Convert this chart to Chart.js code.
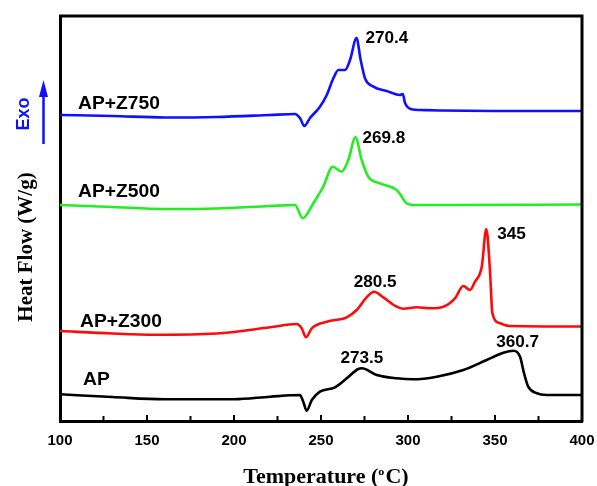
<!DOCTYPE html>
<html>
<head>
<meta charset="utf-8">
<script src="https://cdn.jsdelivr.net/npm/chart.js@4/dist/chart.umd.min.js"></script>
<style>
  html, body { margin: 0; padding: 0; background: #fff; }
  #wrap { width: 597px; height: 486px; }
</style>
</head>
<body>
<div id="wrap"><canvas id="grafica"></canvas></div>
<script>
// DSC curves, heat flow in arbitrary (stacked) units
var tempAP = [100, 130, 160, 200, 220.7, 237.9, 239.8, 241.8, 244.7, 249.4, 258, 264.8, 271.4, 273.5, 282, 293.5, 303, 316.5, 331.8, 345.2, 354.8, 360.7, 364.4, 366.7, 369.1, 374, 379.7, 400];
var flowAP = [2.67, 2.4, 2.17, 2.17, 2.43, 2.6, 1.93, 1.03, 2.1, 2.93, 3.37, 4.27, 5.2, 5.27, 4.6, 4.27, 4.17, 4.43, 5.1, 6.1, 6.83, 7.03, 6.43, 4.77, 3.43, 2.77, 2.6, 2.6];

var tempZ300 = [100, 130, 155, 190, 220.7, 236, 238.9, 241.4, 244.7, 253.3, 264.8, 270.5, 276.2, 280.5, 285.8, 293.5, 297.3, 305, 312.6, 320.3, 327, 331.8, 335.6, 338.5, 342.4, 345, 347.1, 348.5, 352.9, 358.6, 400];
var flowZ300 = [9.0, 8.75, 8.63, 8.75, 9.37, 9.7, 9.27, 8.37, 9.27, 9.93, 10.37, 11.1, 12.37, 12.93, 12.37, 11.43, 11.23, 11.37, 11.27, 11.43, 12.27, 13.5, 13.1, 13.93, 15.43, 19.2, 15.1, 10.77, 9.77, 9.5, 9.45];

var tempZ500 = [100, 130, 160, 190, 220.7, 235, 239.5, 245.6, 251.3, 256.7, 261.9, 265.7, 269.8, 273.4, 277.2, 283.9, 293.5, 295.8, 299.2, 305, 318.4, 400];
var flowZ500 = [21.6, 21.4, 21.2, 21.25, 21.5, 21.6, 20.27, 21.77, 23.43, 25.43, 24.93, 26.1, 28.37, 26.1, 24.43, 23.77, 23.1, 22.6, 21.77, 21.6, 21.6, 21.65];

var tempZ750 = [100, 130, 160, 190, 220.7, 235, 238, 240.4, 243.7, 249.4, 253.3, 257.1, 260, 263.8, 266.7, 270.4, 272.8, 275.3, 280.1, 287.7, 295.4, 297, 298.3, 302.1, 306.9, 318.4, 350, 400];
var flowZ750 = [30.6, 30.5, 30.35, 30.4, 30.6, 30.7, 30.27, 29.5, 30.3, 31.43, 32.6, 34.27, 35.1, 35.1, 36.1, 38.3, 36.1, 34.27, 33.43, 33.0, 32.6, 32.7, 31.8, 31.17, 31.1, 31.05, 31.0, 31.0];

var xTicks = [100, 150, 200, 250, 300, 350, 400];

// peak labels: text, temperature, heat flow of the peak
var peakText = ['270.4', '269.8', '345', '280.5', '273.5', '360.7'];
var peakTemp = [270.4, 269.8, 345, 280.5, 273.5, 360.7];
var peakFlow = [38.3, 28.37, 19.2, 12.93, 5.27, 7.03];

var seriesNames = ['AP+Z750', 'AP+Z500', 'AP+Z300', 'AP'];
var nameFlow = [31.7, 22.9, 9.9, 4.1];

function puntos(t, f) {
    var out = [];
    for (let i = 0; i < t.length; i++) {
        out.push({x: t[i], y: f[i]});
    }
    return out;
}

var SANS = '"Liberation Sans", Arial, sans-serif';
var SERIF = '"Liberation Serif", "Times New Roman", serif';

// offsets of peak labels relative to the peak (px)
var peakOff = [[9, 1, 'left'], [7, 1, 'left'], [11, 6, 'left'], [1, -9, 'center'], [0, -10, 'center'], [4, -8, 'center']];

// text a little wider than the font, like the original figure
function texto(c, s, x, y, align, sx) {
    c.save();
    c.translate(x, y);
    c.scale(sx, 1);
    c.textAlign = align;
    c.fillText(s, 0, 0);
    c.restore();
}

var extras = {
    id: 'extras',
    afterDraw: function(chart) {
        var c = chart.ctx, a = chart.chartArea;
        var xs = chart.scales.x, ys = chart.scales.y;
        c.save();
        // frame top and right
        c.strokeStyle = '#000';
        c.lineWidth = 3;
        c.beginPath();
        c.moveTo(a.left - 1, a.top);
        c.lineTo(a.right, a.top);
        c.lineTo(a.right, a.bottom + 1);
        c.stroke();
        // inward ticks
        c.lineWidth = 2;
        for (let t = 125; t < 400; t += 25) {
            var px = xs.getPixelForValue(t);
            var len = (t % 50 === 0) ? 6 : 5;
            c.beginPath();
            c.moveTo(px, a.bottom);
            c.lineTo(px, a.bottom - len);
            c.stroke();
        }
        // series names
        c.fillStyle = '#000';
        c.font = 'bold 18px ' + SANS;
        c.textBaseline = 'middle';
        var nameX = [78, 78, 80, 83];
        for (let i = 0; i < seriesNames.length; i++) {
            texto(c, seriesNames[i], nameX[i], ys.getPixelForValue(nameFlow[i]), 'left', 1.07);
        }
        // peak labels
        c.font = 'bold 16px ' + SANS;
        for (let i = 0; i < peakText.length; i++) {
            var o = peakOff[i];
            texto(c, peakText[i], xs.getPixelForValue(peakTemp[i]) + o[0], ys.getPixelForValue(peakFlow[i]) + o[1], o[2], 1.07);
        }
        // x title with superscript o
        c.textBaseline = 'alphabetic';
        c.save();
        c.translate(326, 483);
        c.scale(1.1, 1);
        c.font = 'bold 20px ' + SERIF;
        var p1 = 'Temperature (', p3 = 'C)';
        var w1 = c.measureText(p1).width, w3 = c.measureText(p3).width;
        c.font = 'bold 11px ' + SERIF;
        var w2 = c.measureText('o').width + 1;
        var x0 = -(w1 + w2 + w3) / 2;
        c.textAlign = 'left';
        c.font = 'bold 20px ' + SERIF;
        c.fillText(p1, x0, 0);
        c.fillText(p3, x0 + w1 + w2, 0);
        c.font = 'bold 11px ' + SERIF;
        c.fillText('o', x0 + w1, -8);
        c.restore();
        // y title
        c.textAlign = 'center';
        c.textBaseline = 'middle';
        c.font = 'bold 20px ' + SERIF;
        c.save();
        c.translate(27, 247);
        c.rotate(-Math.PI / 2);
        c.scale(1.05, 1);
        c.fillText('Heat Flow (W/g)', 0, 0);
        c.restore();
        // Exo arrow
        c.fillStyle = '#1010ff';
        c.strokeStyle = '#1010ff';
        c.save();
        c.translate(24, 114);
        c.rotate(-Math.PI / 2);
        c.font = 'bold 18px ' + SANS;
        c.fillText('Exo', 0, 0);
        c.restore();
        c.lineWidth = 2.5;
        c.beginPath();
        c.moveTo(43.5, 144);
        c.lineTo(43.5, 90);
        c.stroke();
        c.beginPath();
        c.moveTo(43.5, 80);
        c.lineTo(48, 97);
        c.lineTo(39, 97);
        c.closePath();
        c.fill();
        c.restore();
    }
};

function linea(label, t, f, color) {
    return {
        label: label,
        data: puntos(t, f),
        borderColor: color,
        borderWidth: 2.6,
        pointRadius: 0,
        fill: false,
        cubicInterpolationMode: 'monotone'
    };
}

var ctx = document.getElementById('grafica').getContext('2d');
var myChart = new Chart(ctx, {
    type: 'line',
    data: {
        datasets: [
            linea('AP', tempAP, flowAP, '#000000'),
            linea('AP+Z300', tempZ300, flowZ300, '#ff0a0a'),
            linea('AP+Z500', tempZ500, flowZ500, '#22ee22'),
            linea('AP+Z750', tempZ750, flowZ750, '#1010ff')
        ]
    },
    options: {
        responsive: true,
        maintainAspectRatio: false,
        animation: false,
        layout: { padding: { top: 16, right: 15, left: 0, bottom: 0 } },
        plugins: { legend: { display: false }, tooltip: { enabled: false } },
        scales: {
            x: {
                type: 'linear',
                min: 100,
                max: 400,
                afterBuildTicks: function(s) { s.ticks = xTicks.map(function(v) { return {value: v}; }); },
                afterFit: function(s) { s.height = 65; s.paddingLeft = 0; s.paddingRight = 0; },
                grid: { display: false, drawTicks: false },
                border: { display: true, color: '#000', width: 3 },
                ticks: {
                    padding: 11,
                    color: '#000',
                    font: { family: SANS, size: 15, weight: 'bold' },
                    maxRotation: 0
                }
            },
            y: {
                min: 0,
                max: 40.5,
                afterFit: function(s) { s.width = 60; },
                grid: { display: false, drawTicks: false },
                border: { display: true, color: '#000', width: 3 },
                ticks: { display: false }
            }
        }
    },
    plugins: [extras]
});
</script>
</body>
</html>
